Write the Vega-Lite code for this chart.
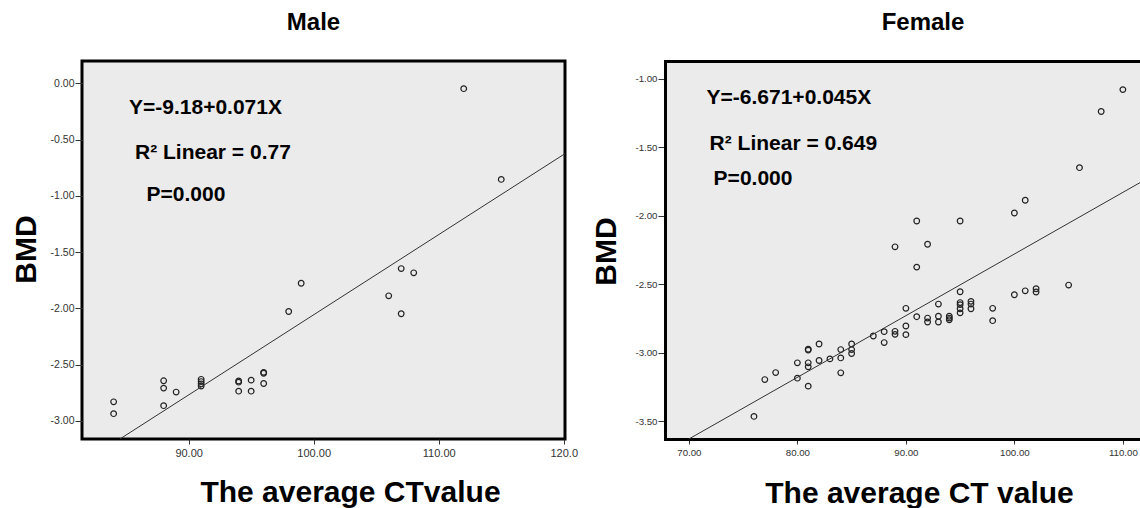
{
  "$schema": "https://vega.github.io/schema/vega-lite/v6.json",
  "padding": {"left": 9, "top": 9, "right": 0, "bottom": 0},
  "background": "white",
  "spacing": 100,
  "bounds": "flush",
  "config": {
    "font": "Liberation Sans",
    "axis": {
      "grid": false,
      "labelFont": "Liberation Sans",
      "labelColor": "#333333",
      "tickColor": "#333333",
      "titleFont": "Liberation Sans",
      "titleFontSize": 30,
      "titleFontWeight": "bold",
      "titleColor": "black",
      "titleBaseline": "alphabetic"
    }
  },
  "datasets": {
    "male": [
      {"ct": 84, "bmd": -2.83}, {"ct": 84, "bmd": -2.935}, {"ct": 88, "bmd": -2.643},
      {"ct": 88, "bmd": -2.708}, {"ct": 88, "bmd": -2.864}, {"ct": 89, "bmd": -2.743},
      {"ct": 91, "bmd": -2.63}, {"ct": 91, "bmd": -2.65}, {"ct": 91, "bmd": -2.67},
      {"ct": 91, "bmd": -2.69}, {"ct": 94, "bmd": -2.645}, {"ct": 94, "bmd": -2.655},
      {"ct": 94, "bmd": -2.735}, {"ct": 95, "bmd": -2.637}, {"ct": 95, "bmd": -2.735},
      {"ct": 96, "bmd": -2.568}, {"ct": 96, "bmd": -2.576}, {"ct": 96, "bmd": -2.667},
      {"ct": 98, "bmd": -2.027}, {"ct": 99, "bmd": -1.776}, {"ct": 106, "bmd": -1.888},
      {"ct": 107, "bmd": -1.646}, {"ct": 107, "bmd": -2.047}, {"ct": 108, "bmd": -1.684},
      {"ct": 112, "bmd": -0.048}, {"ct": 115, "bmd": -0.854}
    ],
    "maleFit": [
      {"ct": 84.5, "bmd": -3.16}, {"ct": 120.1, "bmd": -0.625}
    ],
    "maleText": [
      {"ct": 85.23, "bmd": -0.273, "label": "Y=-9.18+0.071X"},
      {"ct": 85.71, "bmd": -0.672, "label": "R² Linear = 0.77"},
      {"ct": 86.63, "bmd": -1.045, "label": "P=0.000"}
    ],
    "female": [
      {"ct": 110, "bmd": -1.08}, {"ct": 108, "bmd": -1.24}, {"ct": 106, "bmd": -1.65},
      {"ct": 101, "bmd": -1.888}, {"ct": 100, "bmd": -1.981}, {"ct": 91, "bmd": -2.039},
      {"ct": 95, "bmd": -2.039}, {"ct": 89, "bmd": -2.228}, {"ct": 92, "bmd": -2.209},
      {"ct": 91, "bmd": -2.376}, {"ct": 105, "bmd": -2.507}, {"ct": 101, "bmd": -2.549},
      {"ct": 102, "bmd": -2.534}, {"ct": 102, "bmd": -2.558}, {"ct": 100, "bmd": -2.578},
      {"ct": 95, "bmd": -2.556}, {"ct": 95, "bmd": -2.635}, {"ct": 95, "bmd": -2.65},
      {"ct": 95, "bmd": -2.68}, {"ct": 95, "bmd": -2.71}, {"ct": 96, "bmd": -2.626},
      {"ct": 96, "bmd": -2.646}, {"ct": 96, "bmd": -2.68}, {"ct": 93, "bmd": -2.646},
      {"ct": 90, "bmd": -2.677}, {"ct": 98, "bmd": -2.677}, {"ct": 98, "bmd": -2.767},
      {"ct": 91, "bmd": -2.738}, {"ct": 92, "bmd": -2.748}, {"ct": 92, "bmd": -2.777},
      {"ct": 93, "bmd": -2.735}, {"ct": 93, "bmd": -2.777}, {"ct": 94, "bmd": -2.735},
      {"ct": 94, "bmd": -2.748}, {"ct": 94, "bmd": -2.76}, {"ct": 90, "bmd": -2.806},
      {"ct": 90, "bmd": -2.869}, {"ct": 89, "bmd": -2.845}, {"ct": 89, "bmd": -2.867},
      {"ct": 88, "bmd": -2.847}, {"ct": 88, "bmd": -2.927}, {"ct": 87, "bmd": -2.879},
      {"ct": 85, "bmd": -2.937}, {"ct": 85, "bmd": -2.978}, {"ct": 85, "bmd": -3.007},
      {"ct": 84, "bmd": -2.978}, {"ct": 84, "bmd": -3.039}, {"ct": 84, "bmd": -3.148},
      {"ct": 83, "bmd": -3.046}, {"ct": 82, "bmd": -2.937}, {"ct": 82, "bmd": -3.058},
      {"ct": 81, "bmd": -2.975}, {"ct": 81, "bmd": -2.982}, {"ct": 81, "bmd": -3.075},
      {"ct": 81, "bmd": -3.104}, {"ct": 81, "bmd": -3.245}, {"ct": 80, "bmd": -3.075},
      {"ct": 80, "bmd": -3.187}, {"ct": 78, "bmd": -3.146}, {"ct": 77, "bmd": -3.197},
      {"ct": 76, "bmd": -3.466}
    ],
    "femaleFit": [
      {"ct": 70.0, "bmd": -3.631}, {"ct": 111.67, "bmd": -1.755}
    ],
    "femaleText": [
      {"ct": 71.63, "bmd": -1.185, "label": "Y=-6.671+0.045X"},
      {"ct": 71.91, "bmd": -1.52, "label": "R² Linear = 0.649"},
      {"ct": 72.28, "bmd": -1.78, "label": "P=0.000"}
    ]
  },
  "hconcat": [
    {
      "width": 483,
      "height": 378,
      "title": {"text": "Male", "fontSize": 24, "fontWeight": "bold", "font": "Liberation Sans", "color": "black", "anchor": "middle", "dx": -10, "offset": 7, "baseline": "alphabetic"},
      "view": {"fill": "#ebebeb", "stroke": "black", "strokeWidth": 3},
      "layer": [
        {
          "data": {"name": "male"},
          "mark": {"type": "point", "shape": "circle", "filled": false, "color": "#222222", "strokeWidth": 1.2, "size": 32, "opacity": 1},
          "encoding": {
            "x": {"field": "ct", "type": "quantitative",
              "scale": {"domain": [81.47, 120.1], "nice": false, "zero": false},
              "axis": {"values": [90, 100, 110, 120], "labelExpr": "datum.value == 120 ? '120.0' : format(datum.value, '.2f')", "labelFontSize": 11, "tickSize": 5, "labelPadding": 3, "domain": false, "title": "The average CTvalue", "titleX": 268, "titleY": 62}},
            "y": {"field": "bmd", "type": "quantitative",
              "scale": {"domain": [-3.16, 0.198], "nice": false, "zero": false},
              "axis": {"values": [0, -0.5, -1, -1.5, -2, -2.5, -3], "labelExpr": "replace(format(datum.value, '.2f'), '\u2212', '-')", "labelFontSize": 10.5, "tickSize": 7, "labelPadding": 1, "domain": false, "title": "BMD", "titleX": -47, "titleY": 188}}
          }
        },
        {
          "data": {"name": "maleFit"},
          "mark": {"type": "line", "color": "#333333", "strokeWidth": 1},
          "encoding": {
            "x": {"field": "ct", "type": "quantitative"},
            "y": {"field": "bmd", "type": "quantitative"}
          }
        },
        {
          "data": {"name": "maleText"},
          "mark": {"type": "text", "align": "left", "baseline": "alphabetic", "fontSize": 21, "fontWeight": "bold", "color": "black", "font": "Liberation Sans"},
          "encoding": {
            "x": {"field": "ct", "type": "quantitative"},
            "y": {"field": "bmd", "type": "quantitative"},
            "text": {"field": "label"}
          }
        }
      ]
    },
    {
      "width": 476,
      "height": 378,
      "title": {"text": "Female", "fontSize": 24, "fontWeight": "bold", "font": "Liberation Sans", "color": "black", "anchor": "middle", "dx": 20, "offset": 7, "baseline": "alphabetic"},
      "view": {"fill": "#ebebeb", "stroke": null},
      "resolve": {"axis": {"x": "independent"}},
      "layer": [
        {
          "data": {"name": "female"},
          "mark": {"type": "point", "shape": "circle", "filled": false, "color": "#222222", "strokeWidth": 1.2, "size": 32, "opacity": 1},
          "encoding": {
            "x": {"field": "ct", "type": "quantitative",
              "scale": {"domain": [67.8, 111.67], "nice": false, "zero": false},
              "axis": {"values": [70, 80, 90, 100, 110], "format": ".2f", "labelFontSize": 9.7, "tickSize": 5, "labelPadding": 3, "domain": true, "domainColor": "black", "domainWidth": 3, "domainCap": "square", "title": "The average CT value", "titleX": 254, "titleY": 63}},
            "y": {"field": "bmd", "type": "quantitative",
              "scale": {"domain": [-3.631, -0.871], "nice": false, "zero": false},
              "axis": {"values": [-1, -1.5, -2, -2.5, -3, -3.5], "labelExpr": "replace(format(datum.value, '.2f'), '\u2212', '-')", "labelFontSize": 9.7, "tickSize": 7, "labelPadding": 1, "domain": true, "domainColor": "black", "domainWidth": 3, "domainCap": "square", "title": "BMD", "titleX": -50, "titleY": 190}}
          }
        },
        {
          "data": {"name": "femaleFit"},
          "mark": {"type": "line", "color": "#333333", "strokeWidth": 1},
          "encoding": {
            "x": {"field": "ct", "type": "quantitative",
              "axis": {"orient": "top", "labels": false, "ticks": false, "domain": true, "domainColor": "black", "domainWidth": 3, "domainCap": "square", "title": null}},
            "y": {"field": "bmd", "type": "quantitative"}
          }
        },
        {
          "data": {"name": "femaleText"},
          "mark": {"type": "text", "align": "left", "baseline": "alphabetic", "fontSize": 21, "fontWeight": "bold", "color": "black", "font": "Liberation Sans"},
          "encoding": {
            "x": {"field": "ct", "type": "quantitative", "axis": null},
            "y": {"field": "bmd", "type": "quantitative"},
            "text": {"field": "label"}
          }
        }
      ]
    }
  ]
}
